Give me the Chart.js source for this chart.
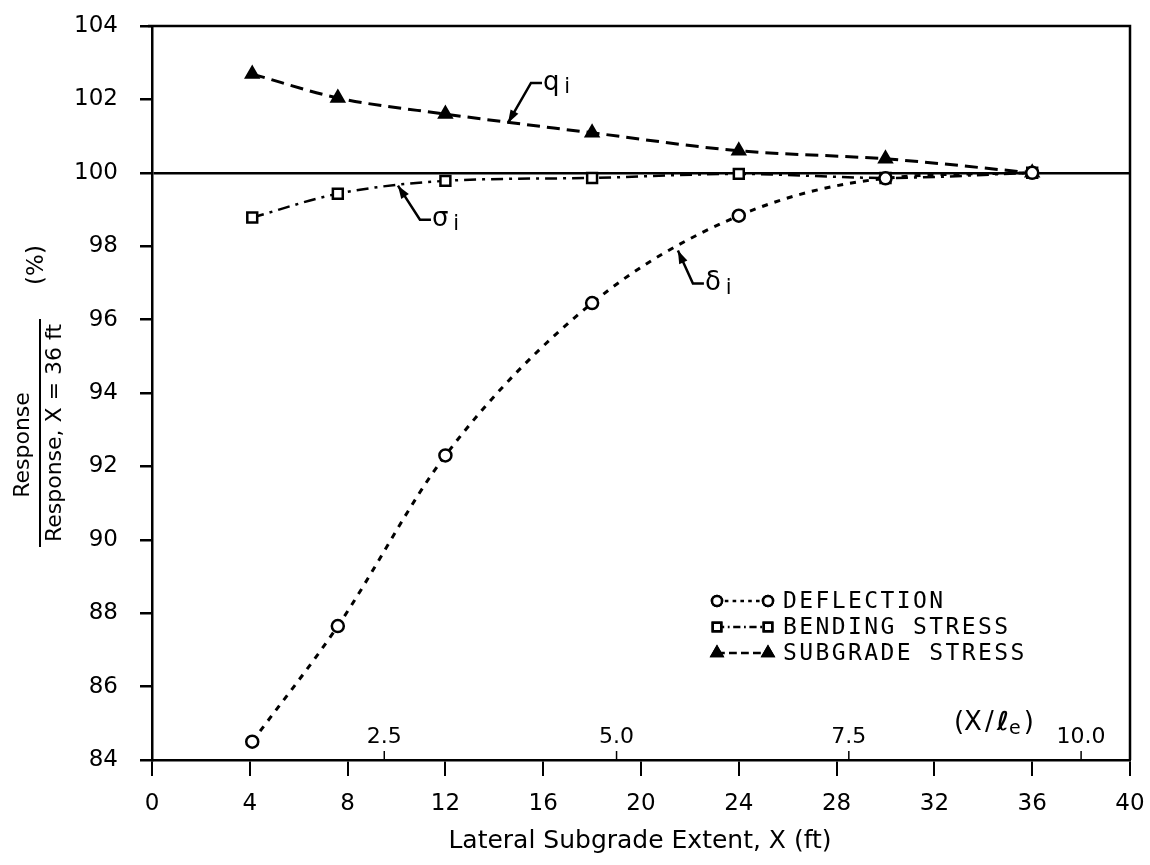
<!DOCTYPE html>
<html>
<head>
<meta charset="utf-8">
<script src="https://cdn.jsdelivr.net/npm/chart.js@4.4.0/dist/chart.umd.min.js"></script>
<style>
  html, body { margin: 0; padding: 0; background: #fff; }
  #wrap { width: 1150px; height: 865px; }
</style>
</head>
<body>
<div id="wrap"><canvas id="chart" width="1150" height="865"></canvas></div>
<script>
// values
const xFeet = [4.1, 7.6, 12, 18, 24, 30, 36];
const deflection = [84.5, 87.65, 92.3, 96.45, 98.83, 99.85, 100];
const bendingStress = [98.78, 99.43, 99.78, 99.86, 99.97, 99.86, 100];
const subgradeStress = [102.69, 102.04, 101.6, 101.09, 100.6, 100.38, 100];

const seriesNames = ['DEFLECTION', 'BENDING STRESS', 'SUBGRADE STRESS'];

// second scale X/le drawn along the bottom axis (le about 3.8 ft)
const relTickFeet = [9.5, 19, 28.5, 38];
const relTickLabels = ['2.5', '5.0', '7.5', '10.0'];

const FONT = '"DejaVu Sans", sans-serif';
const MONO = '"DejaVu Sans Mono", monospace';

function toPoints(ys) {
    return xFeet.map((x, i) => ({ x: x, y: ys[i] }));
}

const lineStyles = [
    { dash: [6, 7], point: 'circle', radius: 6, fill: '#fff', width: 3 },
    { dash: [12, 6, 3, 6], point: 'rect', radius: 7, fill: '#fff', width: 2.5 },
    { dash: [13, 7], point: 'triangle', radius: 7, fill: '#000', width: 3 }
];

const datasets = [deflection, bendingStress, subgradeStress].map((ys, i) => ({
    label: seriesNames[i],
    data: toPoints(ys),
    borderColor: '#000',
    borderWidth: lineStyles[i].width,
    borderDash: lineStyles[i].dash,
    cubicInterpolationMode: 'monotone',
    pointStyle: lineStyles[i].point,
    pointRadius: lineStyles[i].radius,
    pointBackgroundColor: lineStyles[i].fill,
    pointBorderColor: '#000',
    pointBorderWidth: 2.5,
    fill: false
}));

// frame, second scale, legend, leaders and axis titles
const extras = {
    id: 'extras',
    afterDraw(chart) {
        const ctx = chart.ctx;
        const area = chart.chartArea;
        const xs = chart.scales.x;
        const ys = chart.scales.y;
        ctx.save();
        ctx.strokeStyle = '#000';
        ctx.fillStyle = '#000';

        // top and right edges
        ctx.lineWidth = 2.5;
        ctx.beginPath();
        ctx.moveTo(area.left - 4, area.top);
        ctx.lineTo(area.right, area.top);
        ctx.lineTo(area.right, area.bottom);
        ctx.stroke();

        // X/le ticks
        ctx.lineWidth = 1.5;
        ctx.font = '22px ' + FONT;
        ctx.textAlign = 'center';
        ctx.textBaseline = 'middle';
        relTickFeet.forEach((v, i) => {
            const px = xs.getPixelForValue(v);
            ctx.beginPath();
            ctx.moveTo(px, area.bottom);
            ctx.lineTo(px, area.bottom - 9);
            ctx.stroke();
            ctx.fillText(relTickLabels[i], px, area.bottom - 23);
        });
        // (X/le) caption
        let cx = xs.getPixelForValue(32.8);
        const cy = area.bottom - 37;
        ctx.textAlign = 'left';
        ctx.font = '26px ' + FONT;
        ctx.fillText('(X', cx, cy);
        cx += ctx.measureText('(X').width + 3;
        ctx.fillText('/', cx, cy);
        cx += ctx.measureText('/').width + 3;
        ctx.font = 'italic bold 26px ' + FONT;
        ctx.fillText('\u2113', cx, cy);
        cx += ctx.measureText('\u2113').width;
        ctx.font = '19px ' + FONT;
        ctx.fillText('e', cx, cy + 6);
        cx += ctx.measureText('e').width + 3;
        ctx.font = '26px ' + FONT;
        ctx.fillText(')', cx, cy);

        // legend
        const lx0 = 717, lx1 = 768, tx = 783;
        const rows = [601, 627, 653];
        ctx.font = '23px ' + MONO;
        ctx.letterSpacing = '2.4px';
        rows.forEach((ry, i) => {
            const st = lineStyles[i];
            ctx.lineWidth = 2.5;
            ctx.setLineDash(st.dash.map(d => d * 0.6));
            ctx.beginPath();
            ctx.moveTo(lx0, ry);
            ctx.lineTo(lx1, ry);
            ctx.stroke();
            ctx.setLineDash([]);
            [lx0, lx1].forEach(px => {
                Chart.helpers.drawPoint(ctx, {
                    pointStyle: st.point,
                    radius: st.radius - 1,
                    borderWidth: 2.5,
                    rotation: 0
                }, px, ry);
                ctx.fillStyle = st.fill;
                ctx.fill();
                ctx.strokeStyle = '#000';
                ctx.stroke();
                ctx.fillStyle = '#000';
            });
            ctx.textAlign = 'left';
            ctx.textBaseline = 'middle';
            ctx.fillText(seriesNames[i], tx, ry + 1);
        });
        ctx.letterSpacing = '0px';

        // leaders with arrow heads
        const leaders = [
            { x: 14.56, y: 101.36, dx: 23, dy: -40, sym: 'q' },
            { x: 10.06, y: 99.65, dx: 22, dy: 34, sym: '\u03c3' },
            { x: 21.51, y: 97.88, dx: 15, dy: 33, sym: '\u03b4' }
        ];
        leaders.forEach(l => {
            const ax = xs.getPixelForValue(l.x);
            const ay = ys.getPixelForValue(l.y);
            const ex = ax + l.dx, ey = ay + l.dy;
            ctx.lineWidth = 2.5;
            ctx.beginPath();
            ctx.moveTo(ex + 11, ey);
            ctx.lineTo(ex, ey);
            ctx.lineTo(ax, ay);
            ctx.stroke();
            const ang = Math.atan2(ay - ey, ax - ex);
            const len = 13, wid = 4.5;
            ctx.beginPath();
            ctx.moveTo(ax, ay);
            ctx.lineTo(ax - len * Math.cos(ang) + wid * Math.sin(ang), ay - len * Math.sin(ang) - wid * Math.cos(ang));
            ctx.lineTo(ax - len * Math.cos(ang) - wid * Math.sin(ang), ay - len * Math.sin(ang) + wid * Math.cos(ang));
            ctx.closePath();
            ctx.fill();
            ctx.font = '26px ' + FONT;
            ctx.textAlign = 'left';
            ctx.textBaseline = 'middle';
            const sx = ex + 12;
            ctx.fillText(l.sym, sx, ey);
            ctx.font = '21px ' + FONT;
            ctx.fillText('i', sx + ctx.measureText(l.sym).width + 8, ey + 5);
        });

        // y axis title (fraction, rotated)
        ctx.textAlign = 'center';
        ctx.textBaseline = 'middle';
        const rot = (txt, x, y, size) => {
            ctx.save();
            ctx.font = size + 'px ' + FONT;
            ctx.translate(x, y);
            ctx.rotate(-Math.PI / 2);
            ctx.fillText(txt, 0, 0);
            ctx.restore();
        };
        rot('Response', 23, 445, 22);
        rot('Response, X = 36 ft', 55, 433, 22);
        rot('(%)', 37, 265, 23);
        ctx.lineWidth = 2;
        ctx.beginPath();
        ctx.moveTo(40, 319);
        ctx.lineTo(40, 547);
        ctx.stroke();

        // x axis title
        ctx.font = '25px ' + FONT;
        ctx.textAlign = 'center';
        ctx.textBaseline = 'middle';
        ctx.fillText('Lateral Subgrade Extent, X (ft)', 640, 841);

        ctx.restore();
    }
};

new Chart(document.getElementById('chart'), {
    type: 'line',
    data: { datasets: datasets },
    plugins: [extras],
    options: {
        responsive: false,
        devicePixelRatio: 1,
        animation: false,
        layout: { padding: { left: 0, right: 20, top: 26, bottom: 0 } },
        plugins: {
            legend: { display: false },
            tooltip: { enabled: false }
        },
        scales: {
            x: {
                type: 'linear',
                min: 0,
                max: 40,
                afterFit: s => {
                    s.height = 105;
                    s.paddingLeft = 0;
                    s.paddingRight = 0;
                },
                ticks: {
                    stepSize: 4,
                    color: '#000',
                    padding: 14,
                    font: { family: FONT, size: 23 }
                },
                grid: {
                    drawOnChartArea: false,
                    tickLength: 16,
                    tickColor: '#000',
                    lineWidth: 2
                },
                border: { display: true, color: '#000', width: 2.5 }
            },
            y: {
                min: 84,
                max: 104,
                afterFit: s => {
                    s.width = 152;
                    s.paddingTop = 0;
                    s.paddingBottom = 0;
                },
                ticks: {
                    stepSize: 2,
                    color: '#000',
                    padding: 22,
                    font: { family: FONT, size: 23 }
                },
                grid: {
                    color: c => (c.tick && c.tick.value === 100) ? '#000' : 'rgba(0,0,0,0)',
                    tickColor: '#000',
                    tickLength: 12,
                    lineWidth: 2.5
                },
                border: { display: true, color: '#000', width: 2.5 }
            }
        }
    }
});
</script>
</body>
</html>
